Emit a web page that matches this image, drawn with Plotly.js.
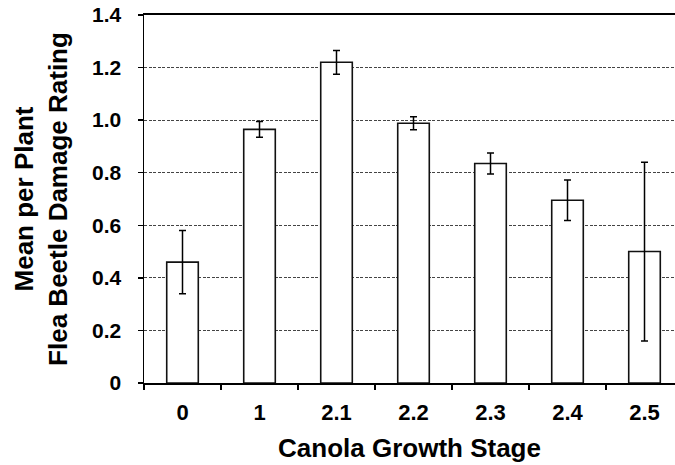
<!DOCTYPE html>
<html>
<head>
<meta charset="utf-8">
<script src="https://cdn.plot.ly/plotly-3.0.1.min.js"></script>
<style>
  html, body { margin: 0; padding: 0; background: #fff; }
  #chart { width: 675px; height: 465px; }
</style>
</head>
<body>
<div id="chart"></div>
<script>
// Growth stages and mean flea beetle damage rating per plant (± error)
const stages = ["0", "1", "2.1", "2.2", "2.3", "2.4", "2.5"];
const meanDamage = [0.46, 0.965, 1.22, 0.988, 0.835, 0.695, 0.50];
const errorDamage = [0.12, 0.03, 0.045, 0.025, 0.04, 0.077, 0.34];
const yTickVals = [0, 0.2, 0.4, 0.6, 0.8, 1.0, 1.2, 1.4];
const yTickText = ["0", "0.2", "0.4", "0.6", "0.8", "1.0", "1.2", "1.4"];

const fontFamily = "'Liberation Sans', Arial, Helvetica, sans-serif";

const trace = {
  type: "bar",
  x: stages,
  y: meanDamage,
  marker: { color: "#ffffff", line: { color: "#111111", width: 1.6 } },
  error_y: {
    type: "data",
    array: errorDamage,
    visible: true,
    color: "#000000",
    thickness: 1.5,
    width: 3.5
  },
  hoverinfo: "skip"
};

const layout = {
  width: 675,
  height: 465,
  margin: { l: 144, r: 0, t: 15, b: 82 },
  paper_bgcolor: "#ffffff",
  plot_bgcolor: "#ffffff",
  showlegend: false,
  bargap: 0.59,
  font: { family: fontFamily, color: "#000000", weight: 700 },
  xaxis: {
    type: "category",
    range: [-0.5, 6.396],
    tickson: "boundaries",
    ticks: "outside",
    ticklen: 5,
    tickwidth: 1.5,
    tickcolor: "#000000",
    showline: true,
    mirror: true,
    linecolor: "#000000",
    linewidth: 2,
    showgrid: false,
    ticklabelstandoff: 9,
    tickfont: { size: 22, family: fontFamily, weight: 700 },
    title: {
      text: "Canola Growth Stage",
      font: { size: 26, family: fontFamily, weight: 700 },
      standoff: 14
    },
    fixedrange: true
  },
  yaxis: {
    range: [0, 1.4],
    tickvals: yTickVals,
    ticktext: yTickText,
    ticks: "outside",
    ticklen: 5,
    tickwidth: 1.5,
    tickcolor: "#000000",
    showline: true,
    linecolor: "#000000",
    linewidth: 1.5,
    showgrid: true,
    gridcolor: "#444444",
    gridwidth: 1,
    griddash: "3px,1.5px",
    zeroline: false,
    ticklabelstandoff: 12,
    tickfont: { size: 21, family: fontFamily, weight: 700 },
    title: {
      text: "Mean per Plant<br>Flea Beetle Damage Rating",
      font: { size: 26, family: fontFamily, weight: 700 },
      standoff: 17
    },
    fixedrange: true
  }
};

Plotly.newPlot("chart", [trace], layout, { displayModeBar: false, staticPlot: true });
</script>
</body>
</html>
